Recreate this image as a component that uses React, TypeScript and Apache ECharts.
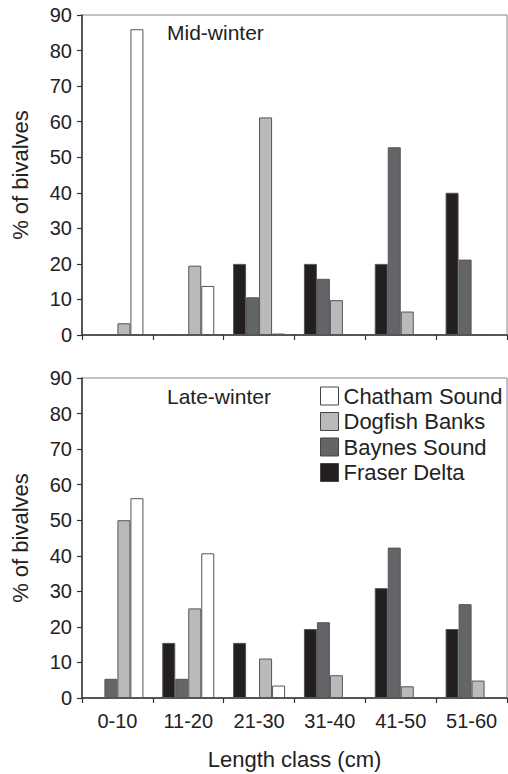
import React, { useEffect, useRef } from "react";
import * as echarts from "echarts";

const categories = ["0-10", "11-20", "21-30", "31-40", "41-50", "51-60"];
const seriesNames = ["Fraser Delta", "Baynes Sound", "Dogfish Banks", "Chatham Sound"];
const legendOrder = ["Chatham Sound", "Dogfish Banks", "Baynes Sound", "Fraser Delta"];
const seriesColors = ["#231f20", "#646569", "#b9babc", "#ffffff"];

// Mid-winter
const midFraser = [0, 0, 20, 20, 20, 40];
const midBaynes = [0, 0, 10.6, 15.8, 52.8, 21.2];
const midDogfish = [3.3, 19.5, 61.2, 9.8, 6.6, 0];
const midChatham = [86, 13.8, 0.4, 0, 0, 0];

// Late-winter
const lateFraser = [0, 15.5, 15.5, 19.4, 30.9, 19.4];
const lateBaynes = [5.4, 5.4, 0, 21.3, 42.3, 26.4];
const lateDogfish = [50, 25.2, 11.1, 6.4, 3.3, 4.9];
const lateChatham = [56.2, 40.7, 3.5, 0, 0, 0];

const yTicks = [0, 10, 20, 30, 40, 50, 60, 70, 80, 90];

const FONT = "Liberation Sans, Arial, sans-serif";
const TEXT = "#222";

export default function App() {
  const ref = useRef<HTMLDivElement>(null);
  useEffect(() => {
    document.body.style.margin = "0";
    const chart = echarts.init(ref.current!, null, { renderer: "svg" });
    const mid = [midFraser, midBaynes, midDogfish, midChatham];
    const late = [lateFraser, lateBaynes, lateDogfish, lateChatham];

    const mkX = (gridIndex: number, showLabels: boolean) => ({
      type: "category",
      gridIndex,
      data: categories,
      boundaryGap: true,
      axisLine: { show: true, lineStyle: { color: "#333", width: 1.5 } },
      axisTick: { show: true, length: 5, alignWithLabel: false, lineStyle: { color: "#333", width: 1.2 } },
      axisLabel: {
        show: showLabels,
        fontFamily: FONT,
        fontSize: 20,
        color: TEXT,
        margin: 13,
      },
      name: showLabels ? "Length class (cm)" : "",
      nameLocation: "middle",
      nameGap: 50,
      nameTextStyle: { fontFamily: FONT, fontSize: 22, color: TEXT },
    });
    const mkY = (gridIndex: number) => ({
      type: "value",
      gridIndex,
      min: yTicks[0],
      max: yTicks[yTicks.length - 1],
      interval: 10,
      splitLine: { show: false },
      axisLine: { show: true, lineStyle: { color: "#333", width: 1.5 } },
      axisTick: { show: true, length: 5, lineStyle: { color: "#333", width: 1.2 } },
      axisLabel: { fontFamily: FONT, fontSize: 20, color: TEXT, margin: 10 },
      name: "% of bivalves",
      nameLocation: "middle",
      nameRotate: 90,
      nameGap: 51,
      nameTextStyle: { fontFamily: FONT, fontSize: 22, color: TEXT },
    });

    const series: any[] = [];
    [mid, late].forEach((panel, gi) => {
      panel.forEach((vals, si) => {
        series.push({
          type: "bar",
          name: seriesNames[si],
          xAxisIndex: gi,
          yAxisIndex: gi,
          data: vals,
          barWidth: 13,
          barGap: "0%",
          itemStyle: { color: seriesColors[si], borderColor: "#555", borderWidth: 1 },
        });
      });
    });

    chart.setOption({
      animation: false,
      backgroundColor: "#fff",
      grid: [
        { left: 82, top: 15, width: 425, height: 320, show: true, borderColor: "#888", borderWidth: 1 },
        { left: 82, top: 378, width: 425, height: 320, show: true, borderColor: "#888", borderWidth: 1 },
      ],
      xAxis: [mkX(0, false), mkX(1, true)],
      yAxis: [mkY(0), mkY(1)],
      legend: {
        data: legendOrder,
        orient: "vertical",
        left: 315,
        top: 380,
        itemWidth: 18,
        itemHeight: 18,
        itemGap: 3.5,
        icon: "rect",
        textStyle: { fontFamily: FONT, fontSize: 22, color: TEXT },
        itemStyle: { borderColor: "#444", borderWidth: 1 },
      },
      graphic: [
        {
          type: "text",
          left: 167,
          top: 22,
          style: { text: "Mid-winter", font: `21px ${FONT}`, fill: TEXT },
        },
        {
          type: "text",
          left: 167,
          top: 386,
          style: { text: "Late-winter", font: `21px ${FONT}`, fill: TEXT },
        },
      ],
      series,
    });
    return () => chart.dispose();
  }, []);
  return <div ref={ref} style={{ width: 508, height: 774 }} />;
}
